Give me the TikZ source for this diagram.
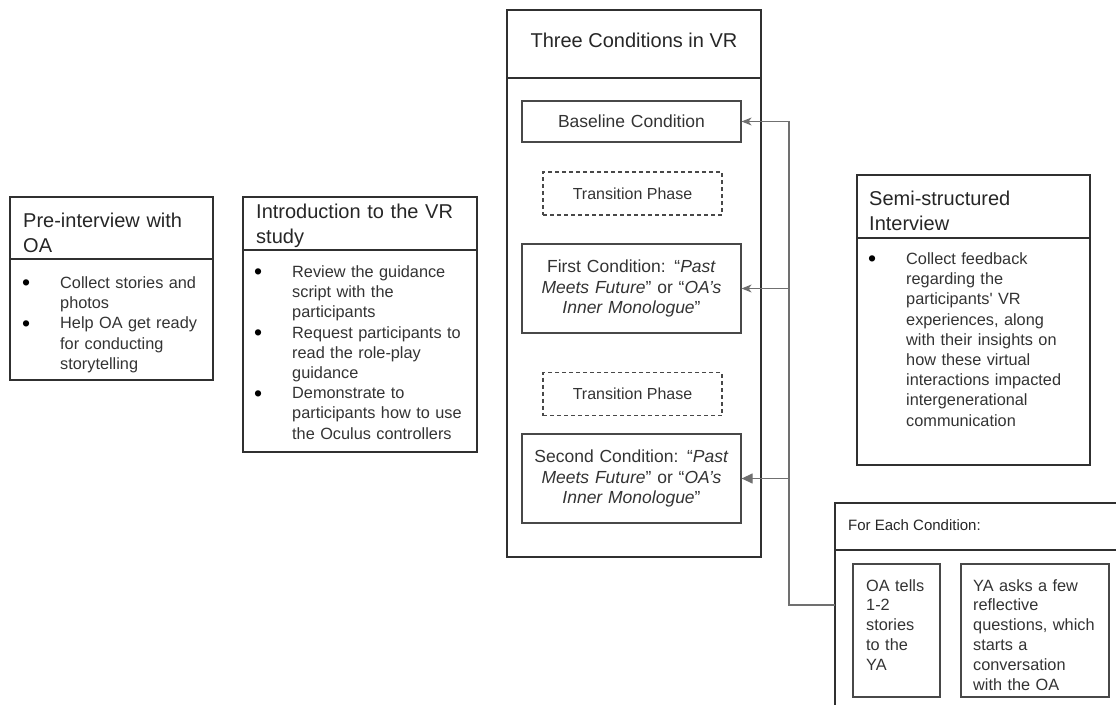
\documentclass[tikz,border=0pt]{standalone}
\usepackage{fontspec}
\setmainfont{Liberation Sans}
\usetikzlibrary{positioning,arrows.meta}
\definecolor{framegray}{HTML}{303030}
\definecolor{boxgray}{HTML}{484848}
\definecolor{linkgray}{HTML}{707070}
\definecolor{textgray}{HTML}{333333}
\newcommand{\bitem}[1]{\par\noindent\llap{\textcolor{black}{\raisebox{-2.4pt}{\fontsize{23}{0}\selectfont\textbullet}}\hskip 30pt}#1}
\tikzset{
  panel/.style={draw=framegray, line width=1.2pt, anchor=north west, inner sep=0pt, outer sep=0pt},
  headline/.style={draw=framegray, line width=2pt},
  condbox/.style={draw=boxgray, line width=1.2pt, minimum width=219pt, inner sep=0pt, text width=212pt, align=center, font=\fontsize{17.5}{20.5}\selectfont, text=textgray},
  phasebox/.style={draw=boxgray, line width=1.1pt, dash pattern=on 4pt off 3pt, minimum width=179pt, minimum height=43pt, font=\fontsize{16}{19}\selectfont, text=textgray},
  titletext/.style={anchor=north west, inner sep=0pt, align=left, font=\fontsize{20}{24.5}\selectfont, text=black!85},
  listtext/.style={anchor=north west, inner sep=0pt, align=left, font=\fontsize{16.3}{20.2}\selectfont, text=textgray},
  link/.style={draw=linkgray, line width=1.2pt},
  openhead/.style={link, -{Stealth[length=10pt,width=8pt,inset=3pt]}},
  fullhead/.style={link, -{Triangle[length=11pt,width=10pt]}},
}
\begin{document}
\begin{tikzpicture}[x=1pt,y=1pt,yscale=-1,xscale=1]
\useasboundingbox (0,0) rectangle (1116,704);
\clip (0,0) rectangle (1116,704);

%Shape: Rectangle (pre-interview)
\node[panel, minimum width=203pt, minimum height=62pt] (prehead) at (10,197) {};
\node[panel, minimum width=203pt, minimum height=121pt, below right=0pt and 0pt of prehead.south west] (prebody) {};
\draw[headline] (prehead.south west) -- (prehead.south east);
%Shape: Rectangle (introduction)
\node[panel, minimum width=234pt, minimum height=53pt] (introhead) at (243,197) {};
\node[panel, minimum width=234pt, minimum height=202pt, below right=0pt and 0pt of introhead.south west] (introbody) {};
\draw[headline] (introhead.south west) -- (introhead.south east);
%Shape: Rectangle (three conditions)
\node[panel, minimum width=254pt, minimum height=68pt] (vrhead) at (507,10) {};
\node[panel, minimum width=254pt, minimum height=479pt, below right=0pt and 0pt of vrhead.south west] (vrbody) {};
\draw[headline] (vrhead.south west) -- (vrhead.south east);
%Shape: Rectangle (interview)
\node[panel, minimum width=233pt, minimum height=63pt] (semihead) at (857,175) {};
\node[panel, minimum width=233pt, minimum height=227pt, below right=0pt and 0pt of semihead.south west] (semibody) {};
\draw[headline] (semihead.south west) -- (semihead.south east);
%Shape: Rectangle (each condition)
\node[panel, minimum width=300pt, minimum height=47pt] (eachhead) at (835,503) {};
\node[panel, minimum width=300pt, minimum height=170pt, below right=0pt and 0pt of eachhead.south west] (eachbody) {};
\draw[headline] (eachhead.south west) -- (eachhead.south east);

% Conditions
\node[condbox, minimum height=41pt] (base) at (631.5,121.5) {Baseline Condition};
\node[phasebox] (phaseone) at (632.5,193.5) {Transition Phase};
\node[condbox, minimum height=89pt] (first) at (631.5,288.5) {First Condition: “\textit{Past}\\\textit{Meets Future}” or “\textit{OA’s}\\\textit{Inner Monologue}”};
\node[phasebox] (phasetwo) at (632.5,394) {Transition Phase};
\node[condbox, minimum height=89pt] (second) at (631.5,478.5) {Second Condition: “\textit{Past}\\\textit{Meets Future}” or “\textit{OA’s}\\\textit{Inner Monologue}”};

% Inner boxes
\node[panel, draw=boxgray, minimum width=87pt, minimum height=133pt] (tells) at (853,564) {};
\node[panel, draw=boxgray, minimum width=148pt, minimum height=133pt] (asks) at (961,564) {};

% Text Node
\node[titletext, text width=190pt] (pretitle) at (23,213) {Pre-interview with\\OA};
% Text Node
\node[titletext, text width=220pt] (introtitle) at (256,204) {Introduction to the VR\\study};
% Text Node
\node[titletext, anchor=center] (vrtitle) at (634,40) {Three Conditions in VR};
% Text Node
\node[titletext, text width=215pt] (semititle) at (869,191) {Semi-structured\\Interview};
% Text Node
\node[titletext, anchor=west, font=\fontsize{15}{18}\selectfont] (eachtitle) at (848,525) {For Each Condition:};

% Text Node
\node[listtext, text width=190pt] (prelist) at (20,268) {\leftskip=40pt
\bitem{Collect stories and\\photos}
\bitem{Help OA get ready\\for conducting\\storytelling}\par};
% Text Node
\node[listtext, text width=225pt] (introlist) at (252,257) {\leftskip=40pt
\bitem{Review the guidance\\script with the\\participants}
\bitem{Request participants to\\read the role-play\\guidance}
\bitem{Demonstrate to\\participants how to use\\the Oculus controllers}\par};
% Text Node
\node[listtext, text width=222pt] (semilist) at (866,244) {\leftskip=40pt
\bitem{Collect feedback\\regarding the\\participants\textquotesingle{} VR\\experiences, along\\with their insights on\\how these virtual\\interactions impacted\\intergenerational\\communication}\par};
% Text Node
\node[listtext, text width=80pt, font=\fontsize{16.3}{19.8}\selectfont] (tellstext) at (866,579) {OA tells\\1-2\\stories\\to the\\YA};
% Text Node
\node[listtext, text width=140pt, font=\fontsize{16.3}{19.8}\selectfont] (askstext) at (973,579) {YA asks a few\\reflective\\questions, which\\starts a\\conversation\\with the OA};

%Straight Lines
\coordinate (elbow) at (789,605);
\draw[openhead] (eachbody.west |- elbow) -- (elbow) |- (base.east);
\draw[openhead] (first.east -| elbow) -- (first.east);
\draw[fullhead] (second.east -| elbow) -- (second.east);

\end{tikzpicture}
\end{document}
